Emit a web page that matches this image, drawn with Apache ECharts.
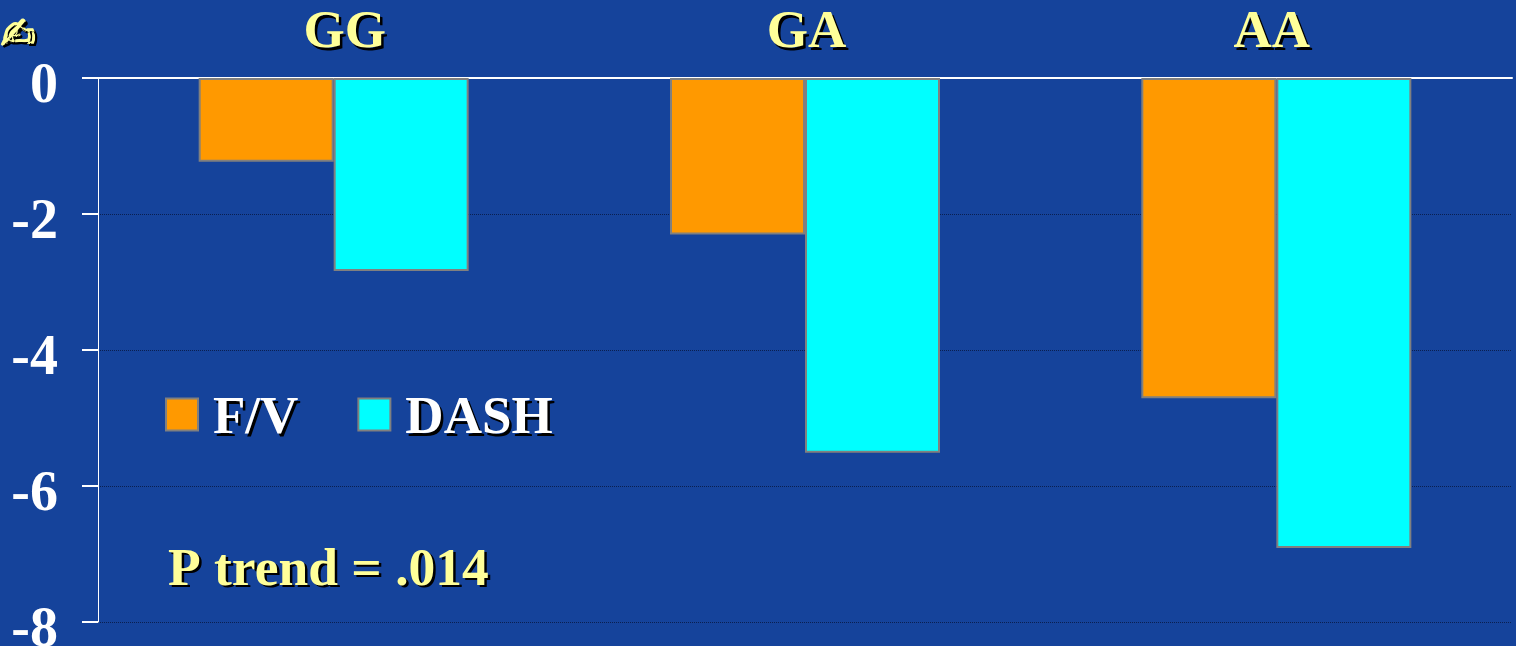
<!DOCTYPE html>
<html><head><meta charset="utf-8">
<style>html,body{margin:0;padding:0;background:#15439b}#c{width:1516px;height:646px}</style>
<script src="https://cdn.jsdelivr.net/npm/echarts@6/dist/echarts.min.js"></script>
</head><body><div id="c"></div>
<script>
const categories = ['GG', 'GA', 'AA'];
const fv = [-1.23, -2.3, -4.71];
const dash = [-2.84, -5.51, -6.91];
const yTicks = [0, -2, -4, -6, -8];
const seriesNames = ['F/V', 'DASH'];
const trendText = 'P trend = .014';
const pen = '\u270D';

const serif = '"Liberation Serif", serif';
const chart = echarts.init(document.getElementById('c'), null, {renderer: 'canvas'});
const barStyle = c => ({color: c, borderColor: '#808080', borderWidth: 2});
const shadow = {textShadowColor: '#000', textShadowBlur: 0.5, textShadowOffsetX: 2.5, textShadowOffsetY: 2.5};
const catLabel = {color: '#ffff99', fontFamily: serif, fontWeight: 'bold', fontSize: 53, ...shadow};
const legendLabel = {color: '#fff', fontFamily: serif, fontWeight: 'bold', fontSize: 53, ...shadow};
chart.setOption({
  backgroundColor: '#15439b',
  animation: false,
  grid: {left: 98, right: 4, top: 78, height: 544, outerBoundsMode: 'none'},
  legend: {
    left: 165, top: 393, padding: 0, icon: 'rect', itemWidth: 32, itemHeight: 32, itemGap: 59,
    data: seriesNames,
    selectedMode: false,
    formatter: name => `{t|${name}}`,
    textStyle: {...legendLabel, rich: {t: {...legendLabel, padding: [10, 0, 0, 10]}}},
    itemStyle: {borderColor: '#808080', borderWidth: 2}
  },
  xAxis: {
    type: 'category', position: 'top', data: categories,
    axisTick: {show: false},
    axisLine: {show: true, onZero: false, lineStyle: {color: '#fff', width: 2}},
    axisLabel: {margin: 18, ...catLabel,
      formatter: (v, i) => `{c${i}|${v}}`,
      rich: {
        c0: {...catLabel, padding: [0, 0, 0, 22]},
        c1: {...catLabel, padding: [0, 0, 0, 3]},
        c2: {...catLabel, padding: [0, 9, 0, 0]}
      }}
  },
  yAxis: {
    type: 'value', min: -8, max: 0, interval: 2,
    axisLine: {show: true, onZero: false, lineStyle: {color: '#fff', width: 1}},
    axisTick: {show: true, length: 16, lineStyle: {color: '#fff', width: 2}},
    splitLine: {show: true, lineStyle: {color: '#0a1f50', type: 'dotted', width: 1}},
    axisLabel: {color: '#fff', fontFamily: serif, fontWeight: 'bold', fontSize: 56, margin: 40,
      verticalAlign: 'top', lineHeight: 20, formatter: v => yTicks.includes(v) ? String(v) : ''}
  },
  series: [
    {name: seriesNames[0], type: 'bar', data: fv, barWidth: 135, barGap: '0%', itemStyle: barStyle('#ff9900')},
    {name: seriesNames[1], type: 'bar', data: dash, barWidth: 135, barGap: '0%', itemStyle: barStyle('#00ffff')}
  ],
  graphic: [
    {type: 'text', left: 168, top: 544, style: {text: trendText, fill: '#ffff99', font: 'bold 53.5px ' + serif,
      textShadowColor: '#000', textShadowBlur: 0.5, textShadowOffsetX: 2.5, textShadowOffsetY: 2.5}},
    {type: 'text', left: 0, top: 15, style: {text: pen, fill: '#ffff99', stroke: '#ffff99', lineWidth: 2,
      font: '42px "DejaVu Sans"',
      textShadowColor: '#000', textShadowBlur: 0.5, textShadowOffsetX: 2, textShadowOffsetY: 2}}
  ]
});
</script></body></html>
